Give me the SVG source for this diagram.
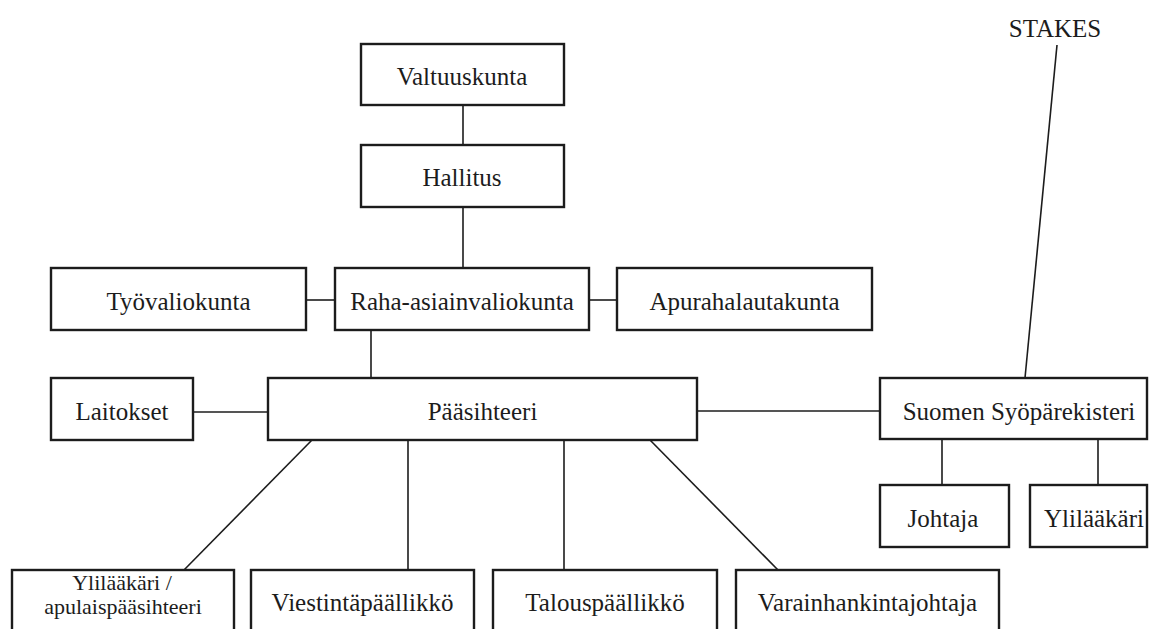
<svg xmlns="http://www.w3.org/2000/svg" width="1149" height="629" viewBox="0 0 1149 629">
  <style>
    .box { fill: #ffffff; stroke: #1c1c1c; stroke-width: 2.4; }
    .lbl { font-family: "Liberation Serif", "DejaVu Serif", serif; font-size: 25px; fill: #1c1c1c; text-anchor: middle; }
    .lbl-sm { font-size: 22px; }
    .link { stroke: #1c1c1c; stroke-width: 1.6; fill: none; }
  </style>
  <rect width="1149" height="629" fill="#ffffff"/>

  <!-- connectors -->
  <g id="connectors" class="link">
    <line x1="463" y1="105" x2="463" y2="145"/>
    <line x1="463" y1="207" x2="463" y2="268"/>
    <line x1="306" y1="300" x2="335" y2="300"/>
    <line x1="589" y1="300" x2="617" y2="300"/>
    <line x1="371" y1="330" x2="371" y2="378"/>
    <line x1="193" y1="412" x2="268" y2="412"/>
    <line x1="697" y1="411" x2="880" y2="411"/>
    <line x1="1057" y1="45" x2="1025" y2="378"/>
    <line x1="942" y1="440" x2="942" y2="485"/>
    <line x1="1098" y1="440" x2="1098" y2="485"/>
    <line x1="312" y1="440" x2="184" y2="570"/>
    <line x1="408" y1="440" x2="408" y2="570"/>
    <line x1="564" y1="440" x2="564" y2="570"/>
    <line x1="650" y1="440" x2="778" y2="570"/>
  </g>

  <!-- free label at the top of the registry line -->
  <g id="stakes">
    <text class="lbl" x="1055" y="37">STAKES</text>
  </g>

  <g id="valtuuskunta">
    <rect class="box" x="361" y="44" width="203" height="61"/>
    <text class="lbl" x="462" y="85">Valtuuskunta</text>
  </g>

  <g id="hallitus">
    <rect class="box" x="361" y="145" width="203" height="62"/>
    <text class="lbl" x="462" y="186">Hallitus</text>
  </g>

  <g id="tyovaliokunta">
    <rect class="box" x="51" y="268" width="255" height="62"/>
    <text class="lbl" x="178.5" y="310">Työvaliokunta</text>
  </g>

  <g id="raha-asiainvaliokunta">
    <rect class="box" x="335" y="268" width="254" height="62"/>
    <text class="lbl" x="462" y="310">Raha-asiainvaliokunta</text>
  </g>

  <g id="apurahalautakunta">
    <rect class="box" x="617" y="268" width="255" height="62"/>
    <text class="lbl" x="744.5" y="310">Apurahalautakunta</text>
  </g>

  <g id="laitokset">
    <rect class="box" x="51" y="378" width="142" height="62"/>
    <text class="lbl" x="122" y="420">Laitokset</text>
  </g>

  <g id="paasihteeri">
    <rect class="box" x="268" y="378" width="429" height="62"/>
    <text class="lbl" x="482.5" y="420">Pääsihteeri</text>
  </g>

  <g id="syoparekisteri">
    <rect class="box" x="880" y="378" width="267" height="61"/>
    <text class="lbl" x="1019" y="420">Suomen Syöpärekisteri</text>
  </g>

  <g id="johtaja">
    <rect class="box" x="880" y="485" width="129" height="62"/>
    <text class="lbl" x="943" y="527">Johtaja</text>
  </g>

  <g id="ylilaakari-rekisteri">
    <rect class="box" x="1030" y="485" width="117" height="62"/>
    <text class="lbl" x="1094" y="527">Ylilääkäri</text>
  </g>

  <g id="ylilaakari-apulais">
    <rect class="box" x="12" y="570" width="222" height="70"/>
    <text class="lbl lbl-sm" x="122" y="590">Ylilääkäri /</text>
    <text class="lbl lbl-sm" x="123" y="614">apulaispääsihteeri</text>
  </g>

  <g id="viestintapaallikko">
    <rect class="box" x="251" y="570" width="223" height="70"/>
    <text class="lbl" x="362.5" y="611">Viestintäpäällikkö</text>
  </g>

  <g id="talouspaallikko">
    <rect class="box" x="493" y="570" width="224" height="70"/>
    <text class="lbl" x="605" y="611">Talouspäällikkö</text>
  </g>

  <g id="varainhankintajohtaja">
    <rect class="box" x="736" y="570" width="263" height="70"/>
    <text class="lbl" x="867.5" y="611">Varainhankintajohtaja</text>
  </g>
</svg>
